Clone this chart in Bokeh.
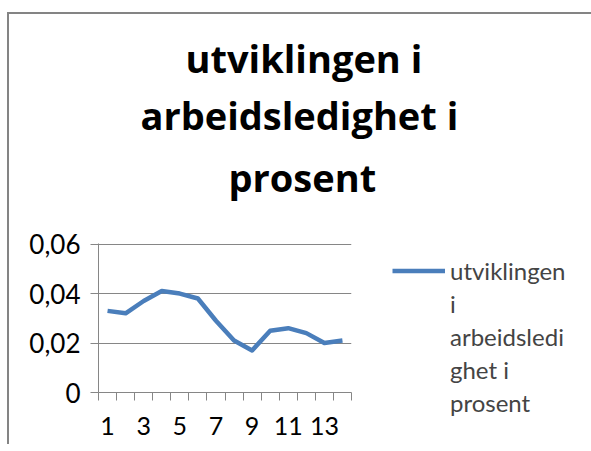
from bokeh.plotting import figure
from bokeh.models import Range1d, FixedTicker, CustomJSTickFormatter, Legend, LegendItem, Title
from bokeh.embed import file_html
from bokeh.resources import INLINE

# ---- data ----
periods = list(range(1, 15))
rates = [0.033, 0.032, 0.037, 0.041, 0.040, 0.038, 0.029,
         0.021, 0.017, 0.025, 0.026, 0.024, 0.020, 0.021]
x_tick_labels = [1, 3, 5, 7, 9, 11, 13]
y_ticks = [0, 0.02, 0.04, 0.06]
series_name_lines = ["utviklingen", "i", "arbeidsledi", "ghet i", "prosent"]
title_lines = ["utviklingen i", "arbeidsledighet i", "prosent"]

FONT = "Lato"
TITLE_FONT = "Open Sans"
GRAY = "#868686"
BLUE = "#4A7EBB"

p = figure(frame_width=253, frame_height=149,
           x_range=Range1d(periods[0] - 0.5, periods[-1] + 0.5),
           y_range=Range1d(y_ticks[0], y_ticks[-1] * 1.004),
           output_backend="svg", toolbar_location=None,
           min_border_left=89, min_border_right=233,
           min_border_top=229, min_border_bottom=52,
           margin=(12, 0, 0, 7))
p.styles = {"border-top": "2px solid #848484", "border-left": "2px solid #848484"}
p.outline_line_color = None
p.background_fill_color = "white"
p.border_fill_color = "white"

r = p.line(periods, rates, line_color=BLUE, line_width=4.5, line_join="round")
# continuation lines of the wrapped legend label carry no glyph
blank = p.line([], [], line_alpha=0)

# x axis: tick marks at category boundaries, labels at odd categories
boundaries = [v - 0.5 for v in periods] + [periods[-1] + 0.5]
p.xaxis.ticker = FixedTicker(ticks=x_tick_labels, minor_ticks=boundaries)
p.xaxis.major_tick_line_color = None
p.xaxis.major_tick_out = 8
p.xaxis.major_tick_in = 0
p.xaxis.minor_tick_line_color = GRAY
p.xaxis.minor_tick_out = 8
p.xaxis.minor_tick_in = 0
p.xaxis.axis_line_color = GRAY
p.xaxis.major_label_standoff = 16
p.xaxis.major_label_text_font = FONT
p.xaxis.major_label_text_font_size = "25px"
p.xaxis.major_label_text_color = "black"

p.yaxis.ticker = FixedTicker(ticks=y_ticks)
p.yaxis.formatter = CustomJSTickFormatter(
    code="return tick == 0 ? '0' : tick.toFixed(2).replace('.', ',');")
p.yaxis.minor_tick_line_color = None
p.yaxis.major_tick_line_color = GRAY
p.yaxis.major_tick_out = 8
p.yaxis.major_tick_in = 0
p.yaxis.axis_line_color = GRAY
p.yaxis.major_label_standoff = 10
p.yaxis.major_label_text_font = FONT
p.yaxis.major_label_text_font_size = "26px"
p.yaxis.major_label_text_color = "black"

p.xgrid.grid_line_color = None
p.ygrid.grid_line_color = GRAY
p.ygrid.ticker = FixedTicker(ticks=y_ticks)

# title: three centred lines over the whole chart area
# a tiny spacer panel first, then lines 3, 2, 1 (later titles stack above)
p.title = None
p.add_layout(Title(text=" ", standoff=32, text_font_size="1px"), "above")
title_offsets = [130, 42, 87]      # for lines 3, 2, 1
title_standoffs = [12, 3, 3]
for text, off, so in zip(title_lines[::-1], title_offsets, title_standoffs):
    p.add_layout(Title(text=text, align="left", offset=off, standoff=so,
                       text_font=TITLE_FONT, text_font_style="bold",
                       text_font_size="38px", text_color="black"), "above")

items = [LegendItem(label=series_name_lines[0], renderers=[r])] + \
        [LegendItem(label=t, renderers=[blank]) for t in series_name_lines[1:]]
legend = Legend(items=items,
                location=(41, -27), padding=0, margin=0, spacing=0,
                glyph_width=53, glyph_height=33, label_height=33, label_standoff=5,
                label_text_font=FONT, label_text_font_size="24px",
                border_line_color=None, background_fill_alpha=0)
p.add_layout(legend, "right")

open("out.html", "w").write(file_html(p, INLINE))
